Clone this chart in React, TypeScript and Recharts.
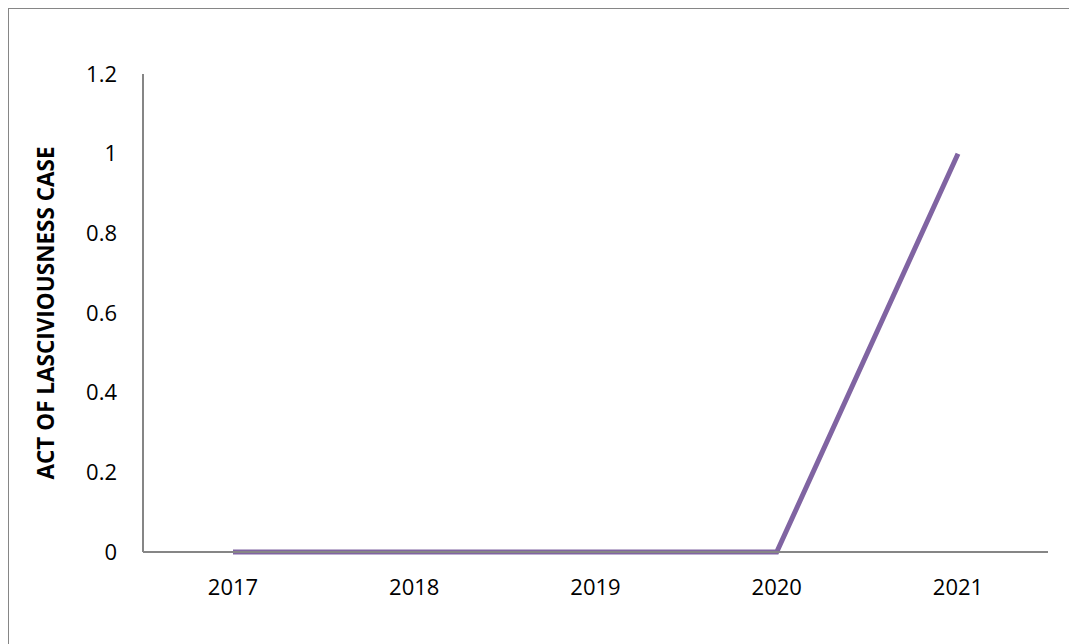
import React from 'react';
import { LineChart, Line, XAxis, YAxis, Label } from 'recharts';

const years = ['2017', '2018', '2019', '2020', '2021'];
const cases = [0, 0, 0, 0, 1];
const yTicks = [0, 0.2, 0.4, 0.6, 0.8, 1, 1.2];

const data = years.map((year, i) => ({ year, cases: cases[i] }));

const AXIS = '#868686';
const FONT = '"Open Sans", sans-serif';

const App: React.FC = () => {
  return (
    <div
      style={{
        width: 1069,
        height: 636,
        borderTop: `1px solid ${AXIS}`,
        borderLeft: `1px solid ${AXIS}`,
        boxSizing: 'border-box',
        background: '#fff',
        fontFamily: FONT,
      }}
    >
      <LineChart width={1068} height={635} data={data} margin={{ top: 65, right: 29, left: 0, bottom: 0 }}>
        <XAxis
          dataKey="year"
          height={92}
          padding={{ left: 90, right: 90 }}
          stroke={AXIS}
          strokeWidth={2}
          tickLine={false}
          tickMargin={21}
          tick={{ fill: '#000', fontSize: 22, fontFamily: FONT }}
        />
        <YAxis
          width={134}
          domain={[0, 1.2]}
          ticks={yTicks}
          stroke={AXIS}
          strokeWidth={2}
          tickLine={false}
          tickMargin={20}
          tick={{ fill: '#000', fontSize: 22, fontFamily: FONT }}
        >
          <Label
            value="ACT OF LASCIVIOUSNESS CASE"
            angle={-90}
            position="center"
            dx={-30}
            style={{ fill: '#000', fontSize: 22.5, fontWeight: 700, fontFamily: FONT }}
          />
        </YAxis>
        <Line
          dataKey="cases"
          stroke="#8064A2"
          strokeWidth={5}
          dot={false}
          isAnimationActive={false}
        />
      </LineChart>
    </div>
  );
};

export default App;
